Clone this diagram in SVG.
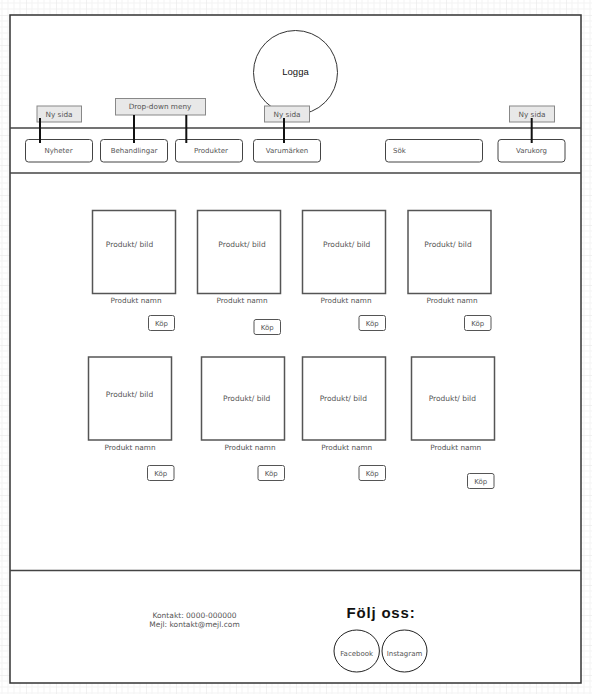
<svg xmlns="http://www.w3.org/2000/svg" width="592" height="694" viewBox="0 0 592 694">
<defs>
<pattern id="grid" patternUnits="userSpaceOnUse" x="26" y="15" width="30" height="30">
<path d="M6 0V30M12 0V30M18 0V30M24 0V30M0 6H30M0 12H30M0 18H30M0 24H30" stroke="#f3f3f3" stroke-width="1" fill="none"/>
<path d="M0 0V30M0 0H30" stroke="#e4e4e4" stroke-width="1" fill="none"/>
</pattern>
</defs>
<style>
.t{font-family:"DejaVu Sans",Verdana,sans-serif;fill:#555;text-anchor:middle}
.nav{fill:#fff;stroke:#444;stroke-width:1}
.tag{fill:#e8e8e8;stroke:#888;stroke-width:1}
.prod{fill:#fff;stroke:#555;stroke-width:1.5}
.buy{fill:#fff;stroke:#555;stroke-width:1}
.con{stroke:#111;stroke-width:2;fill:none}
.sep{stroke:#444;stroke-width:1.5}
</style>
<rect x="0" y="0" width="592" height="694" fill="#fff"/>
<rect x="0" y="0" width="592" height="694" fill="url(#grid)"/>
<g id="frame">
<rect x="10" y="15" width="571" height="668" fill="#fff" stroke="#333" stroke-width="1.5"/>
<line class="sep" x1="10" y1="128" x2="581" y2="128"/>
<line class="sep" x1="10" y1="173" x2="581" y2="173"/>
<line class="sep" x1="10" y1="570.5" x2="581" y2="570.5"/>
</g>
<g id="logo">
<circle cx="295.5" cy="72.5" r="42" fill="#fff" stroke="#333" stroke-width="1"/>
<text x="295.5" y="75" font-family="Liberation Sans,Arial,sans-serif" font-size="9.5" text-anchor="middle" fill="#111">Logga</text>
</g>
<g id="nav-nyheter"><rect class="nav" x="25.5" y="139.5" width="67" height="22.5" rx="3"/><text class="t" x="58.5" y="153" font-size="7">Nyheter</text></g>
<g id="nav-behandlingar"><rect class="nav" x="100.5" y="139.5" width="67" height="22.5" rx="3"/><text class="t" x="134" y="153" font-size="7">Behandlingar</text></g>
<g id="nav-produkter"><rect class="nav" x="175.5" y="139.5" width="67" height="22.5" rx="3"/><text class="t" x="211" y="153" font-size="7">Produkter</text></g>
<g id="nav-varumarken"><rect class="nav" x="253.5" y="139.5" width="67" height="22.5" rx="3"/><text class="t" x="287" y="153" font-size="7">Varumärken</text></g>
<g id="nav-sok"><rect class="nav" x="385.5" y="139.5" width="97" height="22.5" rx="3"/><text class="t" x="393" y="153" font-size="7" style="text-anchor:start">Sök</text></g>
<g id="nav-varukorg"><rect class="nav" x="498" y="139.5" width="67" height="22.5" rx="3"/><text class="t" x="531.5" y="153" font-size="7">Varukorg</text></g>
<g id="tag-nysida-1"><rect class="tag" x="37" y="106" width="44.5" height="16"/><text class="t" x="59" y="117" font-size="7.3">Ny sida</text></g>
<g id="tag-dropdown"><rect class="tag" x="115.5" y="98.5" width="90" height="16.5"/><text class="t" x="160" y="109.3" font-size="7.3">Drop-down meny</text></g>
<g id="tag-nysida-2"><rect class="tag" x="264.5" y="106" width="45" height="16"/><text class="t" x="287" y="117" font-size="7.3">Ny sida</text></g>
<g id="tag-nysida-3"><rect class="tag" x="509.5" y="106" width="45" height="16"/><text class="t" x="532" y="117" font-size="7.3">Ny sida</text></g>
<g id="connectors">
<line class="con" x1="40" y1="118" x2="40" y2="143"/>
<line class="con" x1="134" y1="115" x2="134" y2="143"/>
<line class="con" x1="186.3" y1="115" x2="186.3" y2="143"/>
<line class="con" x1="284" y1="118" x2="284" y2="143"/>
<line class="con" x1="531.7" y1="118" x2="531.7" y2="143"/>
</g>
<g id="product-1"><rect class="prod" x="92.5" y="210.5" width="83" height="83"/><text class="t" x="129.5" y="247" font-size="7.5">Produkt/ bild</text><text class="t" x="136" y="302.5" font-size="7.3">Produkt namn</text></g>
<g id="buy-1"><rect class="buy" x="148.5" y="315.5" width="26" height="15" rx="2"/><text class="t" x="161.5" y="325.5" font-size="7">Köp</text></g>
<g id="product-2"><rect class="prod" x="197.5" y="210.5" width="83" height="83"/><text class="t" x="242" y="247" font-size="7.5">Produkt/ bild</text><text class="t" x="242" y="302.5" font-size="7.3">Produkt namn</text></g>
<g id="buy-2"><rect class="buy" x="254" y="319.5" width="26.5" height="15" rx="2"/><text class="t" x="267.2" y="329.5" font-size="7">Köp</text></g>
<g id="product-3"><rect class="prod" x="302.5" y="210.5" width="83" height="83"/><text class="t" x="346.7" y="247" font-size="7.5">Produkt/ bild</text><text class="t" x="346" y="302.5" font-size="7.3">Produkt namn</text></g>
<g id="buy-3"><rect class="buy" x="359" y="315.5" width="26.5" height="15" rx="2"/><text class="t" x="372.2" y="325.5" font-size="7">Köp</text></g>
<g id="product-4"><rect class="prod" x="408" y="210.5" width="83" height="83"/><text class="t" x="448" y="247" font-size="7.5">Produkt/ bild</text><text class="t" x="452" y="302.5" font-size="7.3">Produkt namn</text></g>
<g id="buy-4"><rect class="buy" x="464.5" y="315.5" width="26.5" height="15" rx="2"/><text class="t" x="477.7" y="325.5" font-size="7">Köp</text></g>
<g id="product-5"><rect class="prod" x="88.5" y="357" width="83" height="83"/><text class="t" x="129.5" y="397" font-size="7.5">Produkt/ bild</text><text class="t" x="130" y="450.3" font-size="7.3">Produkt namn</text></g>
<g id="buy-5"><rect class="buy" x="147.5" y="465.5" width="26.5" height="15" rx="2"/><text class="t" x="160.7" y="475.5" font-size="7">Köp</text></g>
<g id="product-6"><rect class="prod" x="201.5" y="357" width="83" height="83"/><text class="t" x="246.7" y="401" font-size="7.5">Produkt/ bild</text><text class="t" x="250" y="450.3" font-size="7.3">Produkt namn</text></g>
<g id="buy-6"><rect class="buy" x="258" y="465.5" width="26.5" height="15" rx="2"/><text class="t" x="271.2" y="475.5" font-size="7">Köp</text></g>
<g id="product-7"><rect class="prod" x="302.5" y="357" width="83" height="83"/><text class="t" x="343.3" y="401" font-size="7.5">Produkt/ bild</text><text class="t" x="346.7" y="450.3" font-size="7.3">Produkt namn</text></g>
<g id="buy-7"><rect class="buy" x="359" y="465.5" width="26.5" height="15" rx="2"/><text class="t" x="372.2" y="475.5" font-size="7">Köp</text></g>
<g id="product-8"><rect class="prod" x="411.5" y="357" width="83" height="83"/><text class="t" x="452.3" y="401" font-size="7.5">Produkt/ bild</text><text class="t" x="455.7" y="450.3" font-size="7.3">Produkt namn</text></g>
<g id="buy-8"><rect class="buy" x="467.5" y="473.5" width="26.5" height="15" rx="2"/><text class="t" x="480.7" y="483.5" font-size="7">Köp</text></g>
<g id="contact"><text class="t" x="194.5" y="618.3" font-size="7.5">Kontakt: 0000-000000</text><text class="t" x="194.5" y="627.3" font-size="7.5">Mejl: kontakt@mejl.com</text></g>
<g id="follow"><text x="381" y="618" font-family="Liberation Sans,Arial,sans-serif" font-weight="bold" font-size="15" letter-spacing="0.8" text-anchor="middle" fill="#111">Följ oss:</text></g>
<g id="facebook"><ellipse cx="356.7" cy="651" rx="22.7" ry="21" fill="#fff" stroke="#222" stroke-width="1"/><text class="t" x="356.7" y="655.8" font-size="7">Facebook</text></g>
<g id="instagram"><ellipse cx="404.5" cy="651" rx="22.5" ry="21" fill="#fff" stroke="#222" stroke-width="1"/><text class="t" x="404.5" y="655.8" font-size="7">Instagram</text></g>
</svg>
